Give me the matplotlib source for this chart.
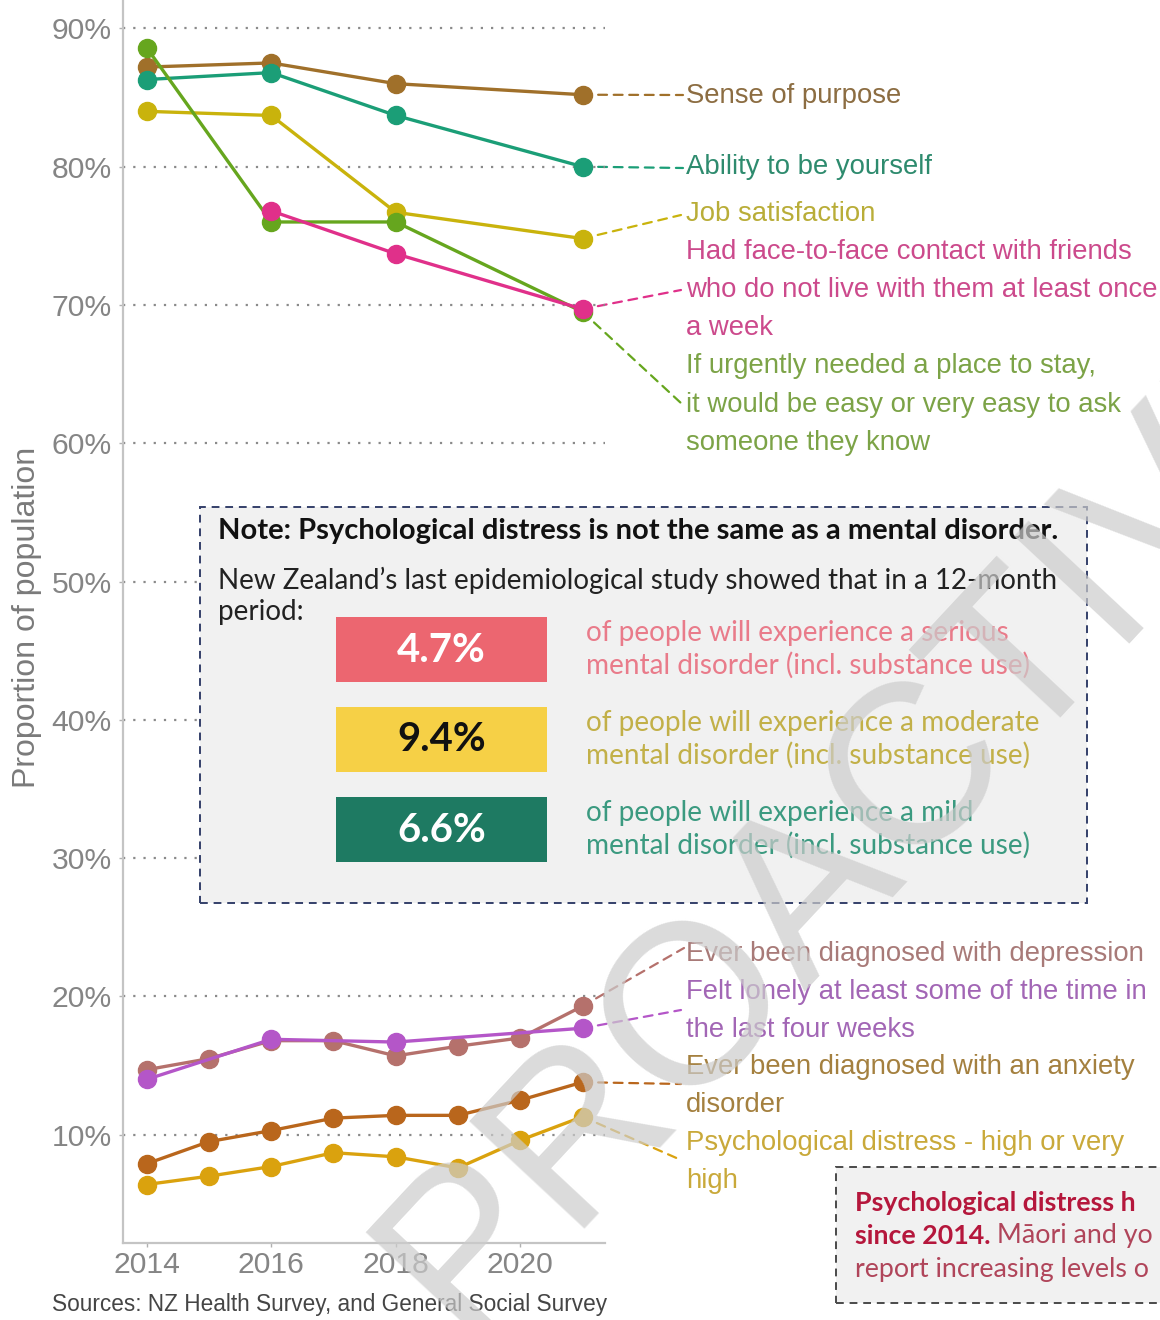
import matplotlib
matplotlib.use("Agg")
import matplotlib.pyplot as plt
from matplotlib.patches import Rectangle, ConnectionPatch
from matplotlib.ticker import FixedLocator, FuncFormatter

W, H, DPI = 1160, 1320, 100
SANS = ["Liberation Sans", "DejaVu Sans"]
BOX = ["Lato", "DejaVu Sans"]

# ---------------- data ----------------
years_gss = [2014, 2016, 2018, 2021]
sense_of_purpose = [87.2, 87.5, 86.0, 85.2]
ability_to_be_yourself = [86.3, 86.8, 83.7, 80.0]
job_satisfaction = [84.0, 83.7, 76.7, 74.8]
years_contact = [2016, 2018, 2021]
face_to_face_contact = [76.8, 73.7, 69.7]
place_to_stay = [88.6, 76.0, 76.0, 69.5]
felt_lonely = [14.0, 16.9, 16.7, 17.7]

years_nzhs = [2014, 2015, 2016, 2017, 2018, 2019, 2020, 2021]
depression = [14.7, 15.5, 16.8, 16.8, 15.7, 16.4, 17.0, 19.3]
anxiety = [7.9, 9.5, 10.3, 11.2, 11.4, 11.4, 12.5, 13.8]
psych_distress = [6.4, 7.0, 7.7, 8.7, 8.4, 7.6, 9.6, 11.3]

y_ticks = [10, 20, 30, 40, 50, 60, 70, 80, 90]
x_ticks = [2014, 2016, 2018, 2020]

y_label = "Proportion of population"
source_text = "Sources: NZ Health Survey, and General Social Survey"

note_title = "Note: Psychological distress is not the same as a mental disorder."
note_body = ["New Zealand\u2019s last epidemiological study showed that in a 12-month", "period:"]
note_pcts = ["4.7%", "9.4%", "6.6%"]
note_desc = [
    ["of people will experience a serious", "mental disorder (incl. substance use)"],
    ["of people will experience a moderate", "mental disorder (incl. substance use)"],
    ["of people will experience a mild", "mental disorder (incl. substance use)"],
]
# the reference crops this call-out at its right edge; only the visible part is kept
callout_bold_1 = "Psychological distress h"
callout_bold_2 = "since 2014."
callout_rest_2 = " M\u0101ori and yo"
callout_line_3 = "report increasing levels o"
watermark = "PROACTIVELY RELEASED"

# series: (years, values, line colour, text colour, label lines, label line y px, connector end px)
series = [
    (years_gss, sense_of_purpose, "#a0702a", "#8c6d42", ["Sense of purpose"], [96], (683, 95)),
    (years_gss, ability_to_be_yourself, "#1b9e77", "#2e8b6e", ["Ability to be yourself"], [167], (683, 168)),
    (years_gss, job_satisfaction, "#c9b30c", "#b9ad38", ["Job satisfaction"], [214], (681, 215)),
    (years_gss, place_to_stay, "#66a61e", "#7ca347",
     ["If urgently needed a place to stay,", "it would be easy or very easy to ask", "someone they know"],
     [366, 405, 443], (682, 404)),
    (years_contact, face_to_face_contact, "#e0308a", "#cc4a8c",
     ["Had face-to-face contact with friends", "who do not live with them at least once", "a week"],
     [252, 290, 328], (681, 290)),
    (years_nzhs, psych_distress, "#daa20e", "#c9a93a", ["Psychological distress - high or very", "high"],
     [1143, 1181], (681, 1160)),
    (years_nzhs, anxiety, "#b9661c", "#a4803f", ["Ever been diagnosed with an anxiety", "disorder"],
     [1067, 1105], (681, 1084)),
    (years_nzhs, depression, "#b5716c", "#a87a78", ["Ever been diagnosed with depression"], [954], (684, 948)),
    (years_gss, felt_lonely, "#b456c8", "#a266b5", ["Felt lonely at least some of the time in", "the last four weeks"],
     [992, 1030], (681, 1010)),
]


def fx(px):
    return px / W


def fy(py):
    return 1 - py / H


fig = plt.figure(figsize=(W / DPI, H / DPI), dpi=DPI)
fig.patch.set_facecolor("white")
renderer = fig.canvas.get_renderer()


def text_width(s, size=20, **kw):
    t = fig.text(0, 0, s, fontsize=size, **kw)
    w = t.get_window_extent(renderer).width
    t.remove()
    return w


def fit_size(s, width_px, **kw):
    return 20 * width_px / text_width(s, 20, **kw)


# ---------------- axes ----------------
ax = fig.add_axes([fx(123), fy(1243), (605 - 123) / W, 1243 / H])
ax.set_facecolor("none")
ax.set_xlim(2013.62, 2021.36)
ax.set_ylim(2.17, 92.05)
for sp in ["top", "right"]:
    ax.spines[sp].set_visible(False)
for sp in ["left", "bottom"]:
    ax.spines[sp].set_color("#c4c4c4")
    ax.spines[sp].set_linewidth(1.6)

tick_fs = fit_size("2014", 67, family=SANS)
ax.yaxis.set_major_locator(FixedLocator(y_ticks))
ax.xaxis.set_major_locator(FixedLocator(x_ticks))
ax.yaxis.set_major_formatter(FuncFormatter(lambda v, p: f"{v:.0f}%"))
ax.xaxis.set_major_formatter(FuncFormatter(lambda v, p: f"{v:.0f}"))
ax.tick_params(axis="both", length=3, width=1, color="#b0b0b0", labelcolor="#858585",
               labelsize=tick_fs)
ax.tick_params(axis="y", pad=5)
ax.tick_params(axis="x", pad=3)
for lab in ax.get_xticklabels() + ax.get_yticklabels():
    lab.set_family(SANS)
ax.grid(axis="y", linestyle=(0, (1, 3.6)), color="#8a8a8a", linewidth=1.6)
ax.grid(axis="x", visible=False)
ax.set_axisbelow(True)

ylab_fs = fit_size(y_label, 340, family=SANS)
ax.set_ylabel(y_label, fontsize=ylab_fs, color="#7a7a7a", family=SANS)
ax.yaxis.label.set_verticalalignment("center")
ax.yaxis.label.set_horizontalalignment("center")
ax.yaxis.set_label_coords((27 - 123) / (605 - 123), (1243 - 617) / 1243)

lab_fs = fit_size("Sense of purpose", 215, family=SANS)

for yrs, vals, col, tcol, lines, ys, end in series:
    ax.plot(yrs, vals, color=col, lw=2.4, marker="o", markersize=13, markerfacecolor=col,
            markeredgecolor=col, zorder=3, solid_capstyle="round")
    con = ConnectionPatch(xyA=(yrs[-1], vals[-1]), coordsA=ax.transData,
                          xyB=(fx(end[0]), fy(end[1])), coordsB=fig.transFigure,
                          linestyle=(0, (4, 3)), color=col, lw=1.6, zorder=-1)
    fig.add_artist(con)
    for line, py in zip(lines, ys):
        fig.text(fx(686), fy(py), line, color=tcol, fontsize=lab_fs, ha="left", va="center",
                 family=SANS)

src_fs = fit_size(source_text, 552, family=SANS)
fig.text(fx(52), fy(1305), source_text, fontsize=src_fs, color="#454545", ha="left",
         va="center", family=SANS)


# ---------------- note box ----------------
def rect_px(x0, y0, x1, y1, **kw):
    r = Rectangle((fx(x0), fy(y1)), (x1 - x0) / W, (y1 - y0) / H, transform=fig.transFigure, **kw)
    fig.add_artist(r)
    return r


rect_px(200, 507, 1087, 903, facecolor="#f1f1f1", edgecolor="#34406a", lw=1.4,
        linestyle=(0, (4, 3)), zorder=4)
title_fs = fit_size(note_title, 840, family=BOX, weight="bold")
fig.text(fx(218), fy(531), note_title, fontsize=title_fs, weight="bold", color="#111111",
         ha="left", va="center", family=BOX, zorder=5)
body_fs = fit_size(note_body[0], 837, family=BOX)
fig.text(fx(218), fy(580), note_body[0], fontsize=body_fs, color="#222222", ha="left",
         va="center", family=BOX, zorder=5)
fig.text(fx(218), fy(612), note_body[1], fontsize=body_fs, color="#222222", ha="left",
         va="center", family=BOX, zorder=5)

pct_box_colors = ["#ec6670", "#f6d046", "#1e7a62"]
pct_text_colors = ["white", "#111111", "white"]
desc_colors = ["#e97b8a", "#c2b048", "#3b9a80"]
box_tops = [617, 707, 797]
pct_fs = fit_size("4.7%", 89, family=BOX, weight="bold")
desc_fs = fit_size(note_desc[1][0], 455, family=BOX)
for pct, bc, tc, dc, top, desc in zip(note_pcts, pct_box_colors, pct_text_colors, desc_colors,
                                      box_tops, note_desc):
    rect_px(336, top, 547, top + 65, facecolor=bc, edgecolor="none", zorder=5)
    fig.text(fx(441.5), fy(top + 33), pct, fontsize=pct_fs, weight="bold", color=tc,
             ha="center", va="center", family=BOX, zorder=6)
    fig.text(fx(586), fy(top + 16), desc[0], fontsize=desc_fs, color=dc, ha="left",
             va="center", family=BOX, zorder=6)
    fig.text(fx(586), fy(top + 48), desc[1], fontsize=desc_fs, color=dc, ha="left",
             va="center", family=BOX, zorder=6)

# ---------------- bottom-right call-out (cropped in the reference) ----------------
rect_px(836, 1167, 1180, 1303, facecolor="#f1f1f1", edgecolor="#4a4a4a", lw=1.4,
        linestyle=(0, (4, 3)), zorder=4)
avail = 298
w1 = text_width(callout_bold_1, family=BOX, weight="bold")
w2 = text_width(callout_bold_2, family=BOX, weight="bold") + text_width(callout_rest_2, family=BOX)
w3 = text_width(callout_line_3, family=BOX)
call_fs = 20 * avail / max(w1, w2, w3)
fig.text(fx(855), fy(1203), callout_bold_1, fontsize=call_fs, weight="bold", color="#b5173c",
         ha="left", va="center", family=BOX, zorder=6)
t2 = fig.text(fx(855), fy(1236), callout_bold_2, fontsize=call_fs, weight="bold", color="#b5173c",
              ha="left", va="center", family=BOX, zorder=6)
bb2 = t2.get_window_extent(renderer)
fig.text(bb2.x1 / W, fy(1236), callout_rest_2, fontsize=call_fs, color="#b0455a",
         ha="left", va="center", family=BOX, zorder=6)
fig.text(fx(855), fy(1269), callout_line_3, fontsize=call_fs, color="#b0455a",
         ha="left", va="center", family=BOX, zorder=6)

# ---------------- watermark ----------------
fig.text(fx(425), fy(1312), watermark, rotation=47, rotation_mode="anchor",
         ha="left", va="center", fontsize=164, color="#cccccc", alpha=0.7, zorder=30,
         family=SANS, clip_on=True)

fig.savefig("out.png", dpi=DPI)
